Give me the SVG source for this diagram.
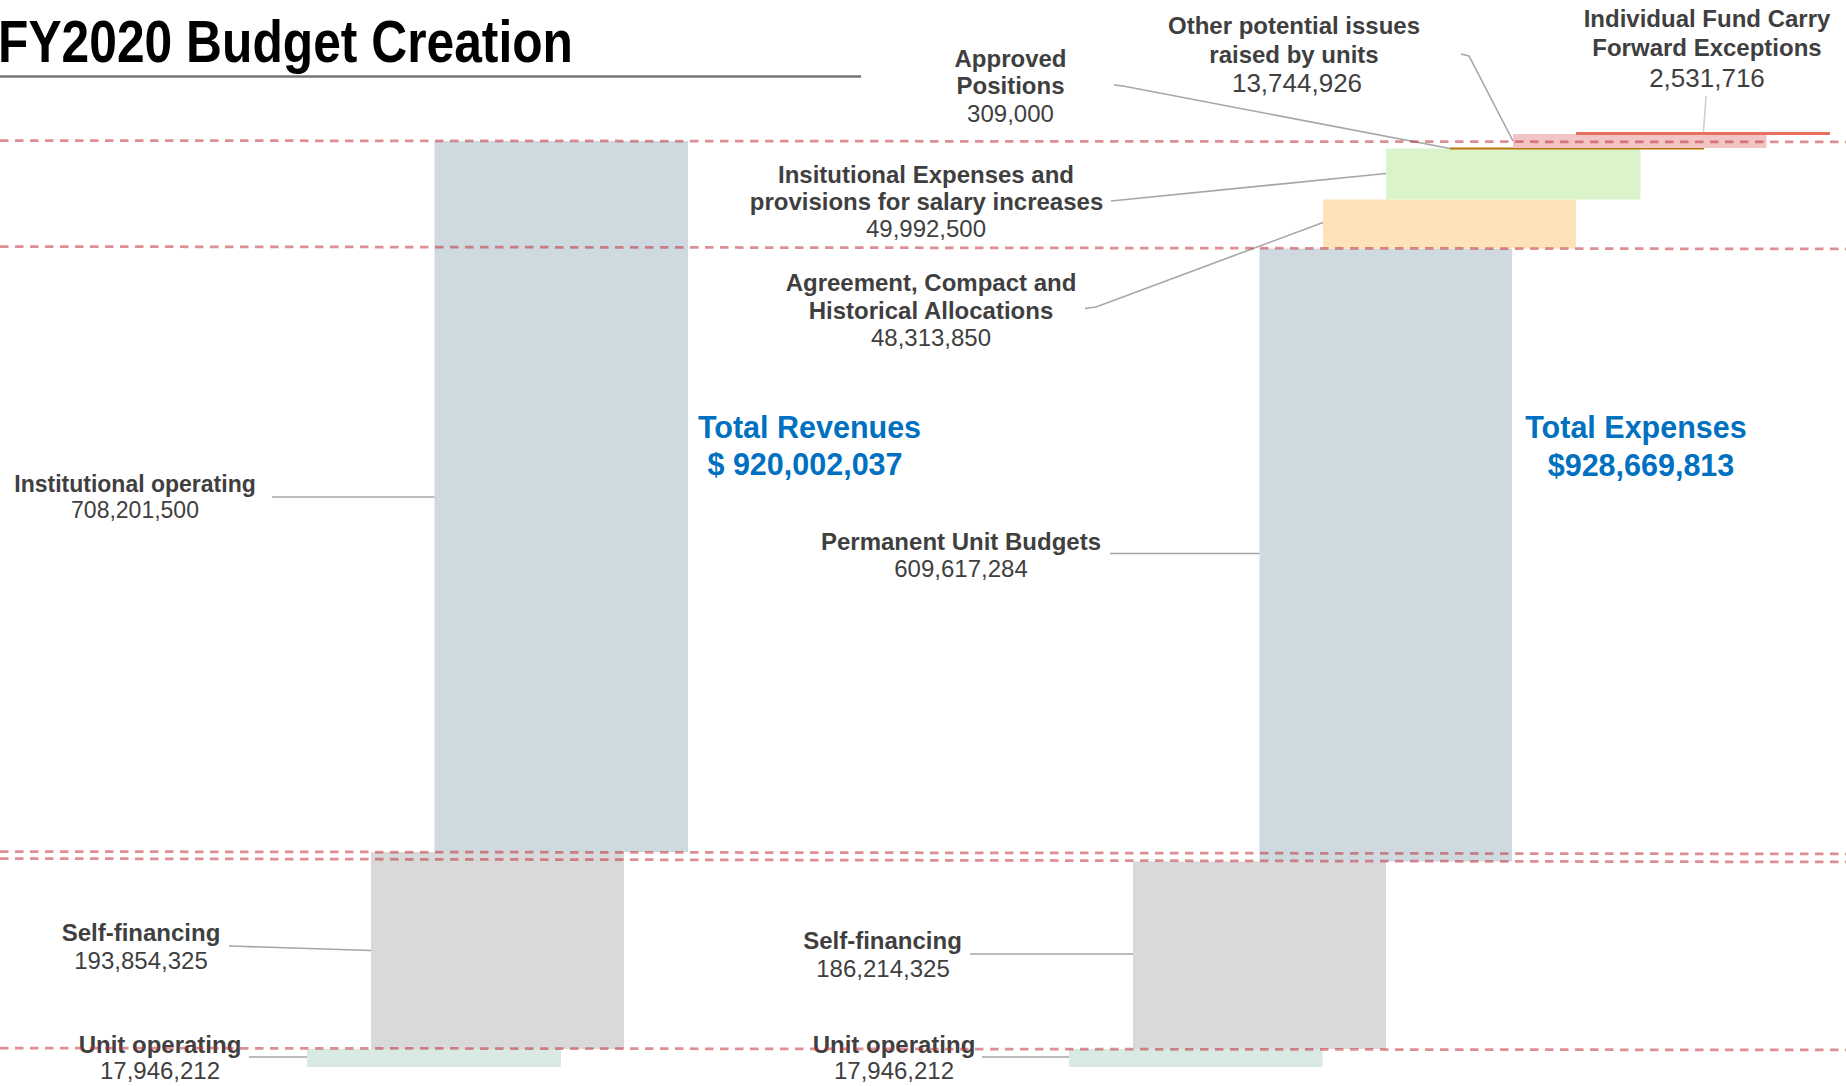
<svg xmlns="http://www.w3.org/2000/svg" width="1846" height="1086" viewBox="0 0 1846 1086">
<style>
text{font-family:"Liberation Sans",Arial,sans-serif;fill:#3f3f3f;text-anchor:middle}
.b{font-weight:bold;font-size:24px}
.n{font-size:24px}
.nl{font-size:26px}
.s23{font-size:23px}
.tot{font-weight:bold;font-size:30.5px;fill:#0070c0}
.title{font-family:"Liberation Sans Narrow","Liberation Sans",Arial,sans-serif;font-weight:bold;font-size:59px;fill:#000;text-anchor:start}
.lead{fill:none;stroke:#a6a6a6;stroke-width:1.6}
.dash{fill:none;stroke:#c02832;stroke-opacity:0.52;stroke-width:2.75;stroke-dasharray:8.5 6.5}
.blue{fill:#cfdae0}.grey{fill:#d9d9d9}.teal{fill:#d8eae3}
</style>
<g id="title">
<text class="title" x="-2" y="61.5" textLength="575" lengthAdjust="spacingAndGlyphs">FY2020 Budget Creation</text>
<line x1="0" y1="76.5" x2="861" y2="76.5" stroke="#767676" stroke-width="2.5"/>
</g>
<g id="rev-institutional">
<rect class="blue" x="434.5" y="141" width="253.5" height="711"/>
<text class="b s23" x="135" y="492">Institutional operating</text>
<text class="n s23" x="135" y="518">708,201,500</text>
</g>
<g id="rev-self">
<rect class="grey" x="371" y="852" width="253" height="197"/>
<text class="b" x="141" y="941">Self-financing</text>
<text class="n" x="141" y="969">193,854,325</text>
</g>
<g id="rev-unit">
<rect class="teal" x="307" y="1049" width="254" height="18"/>
<text class="b" x="160" y="1052.5">Unit operating</text>
<text class="n" x="160" y="1079">17,946,212</text>
</g>
<g id="total-revenues">
<text class="tot" x="809.5" y="438">Total Revenues</text>
<text class="tot" x="805" y="474.5">$ 920,002,037</text>
</g>
<g id="exp-unit">
<rect class="teal" x="1069" y="1049" width="253.5" height="18"/>
<text class="b" x="894" y="1052.5">Unit operating</text>
<text class="n" x="894" y="1079">17,946,212</text>
</g>
<g id="exp-self">
<rect class="grey" x="1133" y="861.5" width="253" height="187.5"/>
<text class="b" x="882.5" y="949">Self-financing</text>
<text class="n" x="883" y="977">186,214,325</text>
</g>
<g id="exp-permanent">
<rect class="blue" x="1259.5" y="248.5" width="252.5" height="613"/>
<text class="b" x="961" y="550">Permanent Unit Budgets</text>
<text class="n" x="961" y="577">609,617,284</text>
</g>
<g id="exp-agreement">
<rect x="1323" y="199.5" width="253" height="49" fill="#fde3b7"/>
<text class="b" x="931" y="291">Agreement, Compact and</text>
<text class="b" x="931" y="319">Historical Allocations</text>
<text class="n" x="931" y="346">48,313,850</text>
</g>
<g id="exp-institutional">
<rect x="1386" y="148.5" width="254.5" height="51" fill="#daf3c9"/>
<text class="b" x="926" y="182.5">Insitutional Expenses and</text>
<text class="b" x="926.5" y="209.5">provisions for salary increases</text>
<text class="n" x="926" y="236.5">49,992,500</text>
</g>
<g id="exp-approved">
<rect x="1450" y="147.5" width="254" height="2" fill="#b8760a"/>
<text class="b" x="1010.5" y="67">Approved</text>
<text class="b" x="1010.5" y="94">Positions</text>
<text class="n" x="1010.5" y="122">309,000</text>
</g>
<g id="exp-other">
<rect x="1513" y="134" width="253.5" height="14" fill="#f2c4c4"/>
<text class="b" x="1294" y="34">Other potential issues</text>
<text class="b" x="1294" y="62.5">raised by units</text>
<text class="nl" x="1297" y="92">13,744,926</text>
</g>
<g id="exp-carry">
<rect x="1576" y="132" width="254" height="3" fill="#e8705f"/>
<text class="b" x="1707" y="27">Individual Fund Carry</text>
<text class="b" x="1707" y="55.5">Forward Exceptions</text>
<text class="nl" x="1707" y="86.5">2,531,716</text>
</g>
<g id="total-expenses">
<text class="tot" x="1636" y="438">Total Expenses</text>
<text class="tot" x="1641" y="475.5">$928,669,813</text>
</g>
<g id="connectors">
<polyline class="lead" points="272,497 434.5,497"/>
<polyline class="lead" points="229,946 238,946.3 371,950.5"/>
<polyline class="lead" points="249,1057 307,1057"/>
<polyline class="lead" points="970,954 1133,954"/>
<polyline class="lead" points="982,1057 1069,1057"/>
<polyline class="lead" points="1110,553.5 1259.5,553.5"/>
<polyline class="lead" points="1085,308.5 1096,307 1323,222.5"/>
<polyline class="lead" points="1111,201 1386,173.5"/>
<polyline class="lead" points="1114,85 1123,86 1450,148.5"/>
<polyline class="lead" points="1461,54 1469,56 1513,141"/>
<polyline class="lead" points="1706,96 1703.5,132" style="stroke:#cfcfcf"/>
</g>
<g id="guides">
<line class="dash" x1="0" y1="140.5" x2="1846" y2="142"/>
<line class="dash" x1="0" y1="246.5" x2="1846" y2="249"/>
<line class="dash" x1="0" y1="851.5" x2="1846" y2="854"/>
<line class="dash" x1="0" y1="858.5" x2="1846" y2="862"/>
<line class="dash" x1="0" y1="1048" x2="1846" y2="1050"/>
</g>
</svg>
